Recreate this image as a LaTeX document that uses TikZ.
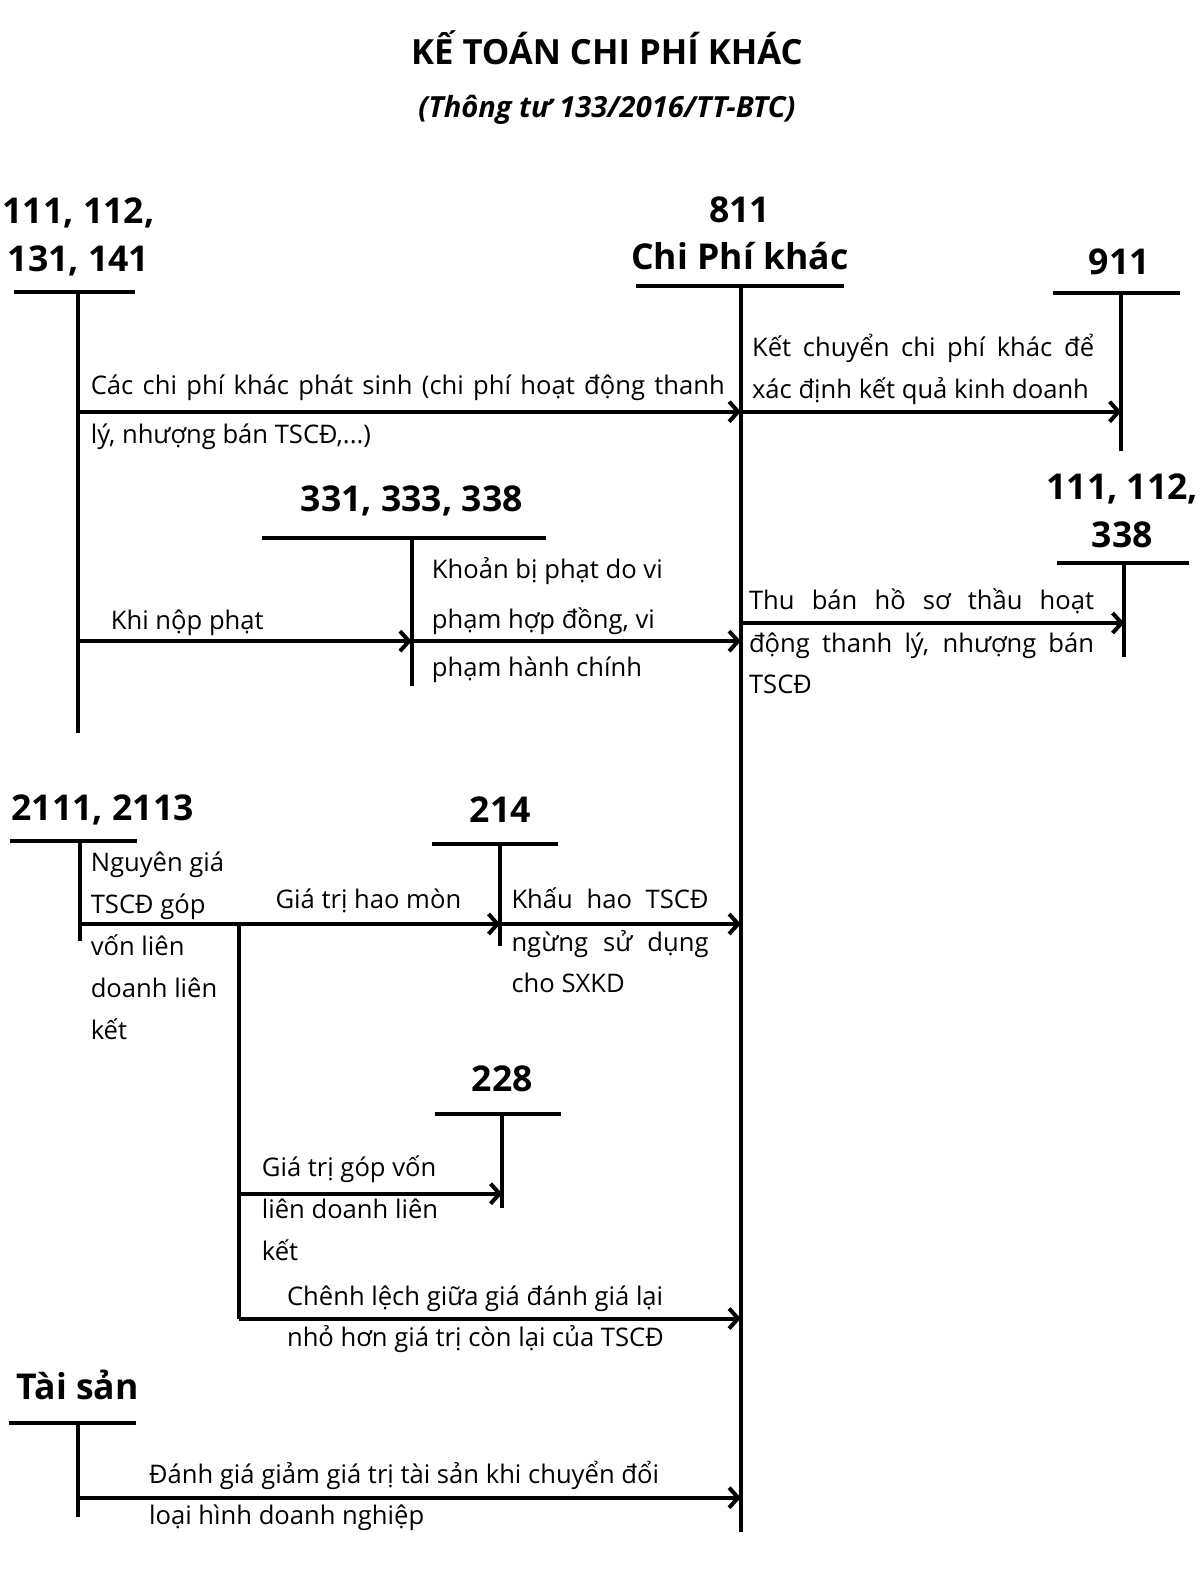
\documentclass[tikz,border=0pt]{standalone}
\usepackage{fontspec}
\setmainfont{Open Sans}
\usetikzlibrary{arrows.meta}
\tikzset{
  acct/.style={font=\bfseries\fontsize{35.7}{40}\selectfont, anchor=base, inner sep=0pt},
  lbl/.style={font=\fontsize{25.7}{30}\selectfont, anchor=base west, inner sep=0pt},
  tline/.style={line width=4bp},
  flow/.style={line width=4bp, -{Straight Barb[length=9bp,width=20bp,line width=4bp]}},
}
\begin{document}
\begin{tikzpicture}[x=1.0065bp,y=-1.0065bp]
\useasboundingbox (0,0) rectangle (1192.25,1566.8);
% title
\node[font=\bfseries\fontsize{34.8}{40}\selectfont, anchor=base, inner sep=0pt] (title) at (603,64) {KẾ TOÁN CHI PHÍ KHÁC};
\node[font=\bfseries\itshape\fontsize{29.2}{32}\selectfont, anchor=base, inner sep=0pt] (subtitle) at (603,117) {(Thông tư 133/2016/TT-BTC)};

% account headings
\node[acct] (h1a) at (78,222) {111, 112,};
\node[acct] (h1b) at (78,270) {131, 141};
\node[acct] (h811a) at (735,221) {811};
\node[acct] (h811b) at (735,268) {Chi Phí khác};
\node[acct] (h911) at (1112,273) {911};
\node[acct] (h331) at (409,508) {331, 333, 338};
\node[acct] (h111a) at (1115,496) {111, 112,};
\node[acct] (h111b) at (1115,544) {338};
\node[acct] (h2111) at (102,815) {2111, 2113};
\node[acct] (h214) at (497,817) {214};
\node[acct] (h228) at (499,1084) {228};
\node[acct] (hts) at (77,1390) {Tài sản};

% T-accounts
\draw[tline] (14,290) -- (134,290);   \draw[tline] (77,290) -- (77,728);
\draw[tline] (632,284) -- (839,284);  \draw[tline] (736,284) -- (736,1522);
\draw[tline] (1046,291) -- (1172,291); \draw[tline] (1114,291) -- (1114,448);
\draw[tline] (260,535) -- (542,535);  \draw[tline] (409,535) -- (409,682);
\draw[tline] (1050,559) -- (1181,559); \draw[tline] (1117,559) -- (1117,653);
\draw[tline] (10,836) -- (136,836);   \draw[tline] (79,836) -- (79,935);
\draw[tline] (429,839) -- (554,839);  \draw[tline] (497,839) -- (497,940);
\draw[tline] (432,1107) -- (557,1107); \draw[tline] (499,1107) -- (499,1200);
\draw[tline] (9,1414) -- (135,1414);  \draw[tline] (77,1414) -- (77,1507);

% connector points
\coordinate (a111y1) at (77,409);
\coordinate (a811y1) at (736,409);
\coordinate (a911y1) at (1114,409);
\coordinate (a111y2) at (77,637);
\coordinate (a331y2) at (409,637);
\coordinate (a811y2) at (736,637);
\coordinate (a811y3) at (736,619);
\coordinate (a338y3) at (1117,619);
\coordinate (a2111) at (79,918);
\coordinate (br1) at (237,918);
\coordinate (a214) at (497,918);
\coordinate (a811y4) at (736,918);
\coordinate (br2) at (237,1186);
\coordinate (a228) at (499,1186);
\coordinate (br3) at (237,1310);
\coordinate (a811y5) at (736,1310);
\coordinate (ats) at (77,1488);
\coordinate (a811y6) at (736,1488);

\draw[flow] (a111y1) -- (a811y1);
\draw[flow] (a811y1) -- (a911y1);
\draw[flow] (a111y2) -- (a331y2);
\draw[flow] (a331y2) -- (a811y2);
\draw[flow] (a811y3) -- (a338y3);
\draw[flow] (a2111) -- (a214);
\draw[flow] (a214) -- (a811y4);
\draw[tline] (br1) -- (br3);
\draw[flow] (br2) -- (a228);
\draw[flow] (br3) -- (a811y5);
\draw[flow] (ats) -- (a811y6);

% labels
\node[lbl] (t1a) at (90,392) {\makebox[634bp][s]{Các chi phí khác phát sinh (chi phí hoạt động thanh}};
\node[lbl] (t1b) at (90,441) {lý, nhượng bán TSCĐ,...)};
\node[lbl] (t2a) at (747,354) {\makebox[342bp][s]{Kết chuyển chi phí khác để}};
\node[lbl] (t2b) at (747,396) {xác định kết quả kinh doanh};
\node[lbl] (t3) at (110,625) {Khi nộp phạt};
\node[lbl] (t4a) at (429,575) {Khoản bị phạt do vi};
\node[lbl] (t4b) at (429,624) {phạm hợp đồng, vi};
\node[lbl] (t4c) at (429,672) {phạm hành chính};
\node[lbl] (t5a) at (744,606) {\makebox[345bp][s]{Thu bán hồ sơ thầu hoạt}};
\node[lbl] (t5b) at (744,648) {\makebox[345bp][s]{động thanh lý, nhượng bán}};
\node[lbl] (t5c) at (744,689) {TSCĐ};
\node[lbl] (t6a) at (90,866) {Nguyên giá};
\node[lbl] (t6b) at (90,908) {TSCĐ góp};
\node[lbl] (t6c) at (90,949) {vốn liên};
\node[lbl] (t6d) at (90,991) {doanh liên};
\node[lbl] (t6e) at (90,1033) {kết};
\node[lbl, anchor=base] (t7) at (366,903) {Giá trị hao mòn};
\node[lbl] (t8a) at (508,903) {\makebox[197bp][s]{Khấu hao TSCĐ}};
\node[lbl] (t8b) at (508,945) {\makebox[197bp][s]{ngừng sử dụng}};
\node[lbl] (t8c) at (508,986) {cho SXKD};
\node[lbl] (t9a) at (260,1169) {Giá trị góp vốn};
\node[lbl] (t9b) at (260,1211) {liên doanh liên};
\node[lbl] (t9c) at (260,1252) {kết};
\node[lbl] (t10a) at (285,1297) {Chênh lệch giữa giá đánh giá lại};
\node[lbl] (t10b) at (285,1338) {nhỏ hơn giá trị còn lại của TSCĐ};
\node[lbl] (t11a) at (148,1474) {Đánh giá giảm giá trị tài sản khi chuyển đổi};
\node[lbl] (t11b) at (148,1515) {loại hình doanh nghiệp};
\end{tikzpicture}
\end{document}
